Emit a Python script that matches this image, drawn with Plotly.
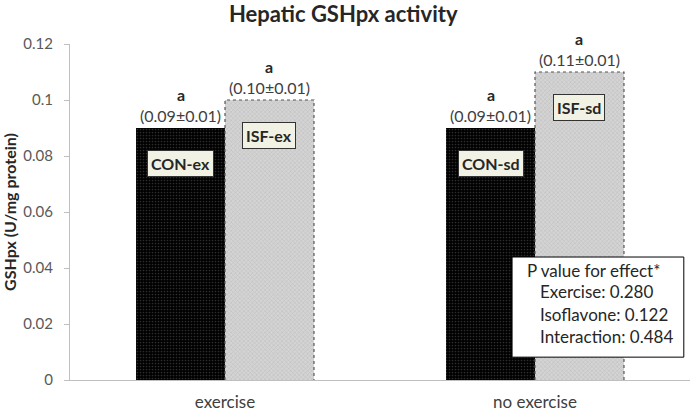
import plotly.graph_objects as go

categories = ["exercise", "no exercise"]
con_values = [0.09, 0.09]
isf_values = [0.10, 0.11]
con_labels = ["(0.09±0.01)", "(0.09±0.01)"]
isf_labels = ["(0.10±0.01)", "(0.11±0.01)"]
con_names = ["CON-ex", "CON-sd"]
isf_names = ["ISF-ex", "ISF-sd"]
sig_con = ["a", "a"]
sig_isf = ["a", "a"]
y_ticks = [0, 0.02, 0.04, 0.06, 0.08, 0.1, 0.12]
y_ticktext = ["0", "0.02", "0.04", "0.06", "0.08", "0.1", "0.12"]
pvalue_lines = ["P value for effect*", "Exercise: 0.280", "Isoflavone: 0.122", "Interaction: 0.484"]

FONT = "Lato"
BW = 0.287

fig = go.Figure()
fig.add_trace(go.Bar(
    x=list(range(len(categories))), y=con_values, width=BW, offset=-BW,
    marker=dict(color="black", line=dict(width=0),
                pattern=dict(shape=".", bgcolor="black", fgcolor="#5a5a5a", size=3, solidity=0.25)),
    showlegend=False, hoverinfo="skip"))
fig.add_trace(go.Bar(
    x=list(range(len(categories))), y=isf_values, width=BW, offset=0,
    marker=dict(color="#c8c8c8", line=dict(width=0),
                pattern=dict(shape="x", bgcolor="#d4d4d4", fgcolor="#a4a4a4", size=3, solidity=0.3)),
    showlegend=False, hoverinfo="skip"))

shapes = []
annotations = []
for i in range(len(categories)):
    # dotted outline of ISF bars
    x0, x1, top = i, i + BW, isf_values[i]
    shapes.append(dict(type="path", xref="x", yref="y",
                       path=f"M {x0},0 L {x0},{top} L {x1},{top} L {x1},0",
                       line=dict(color="#555555", width=1.2, dash="dot")))
    for xc, val, lab, sig, name in [
        (i - BW / 2, con_values[i], con_labels[i], sig_con[i], con_names[i]),
        (i + BW / 2, isf_values[i], isf_labels[i], sig_isf[i], isf_names[i]),
    ]:
        annotations.append(dict(x=xc, y=val, xref="x", yref="y", text=lab, showarrow=False,
                                yshift=13, font=dict(family=FONT, size=16, color="#404040")))
        annotations.append(dict(x=xc, y=val, xref="x", yref="y", text=f"<b>{sig}</b>", showarrow=False,
                                yshift=34, font=dict(family=FONT, size=16, color="#262626")))
        annotations.append(dict(x=xc, y=val, xref="x", yref="y", text=f"<b>{name}</b>", showarrow=False,
                                yshift=-35, font=dict(family=FONT, size=16, color="#262626"),
                                bgcolor="#f2f2e4", bordercolor="#333333", borderwidth=1, borderpad=3))

# P value box
shapes.append(dict(type="rect", xref="paper", yref="paper", x0=0.713, x1=0.990, y0=0.068, y1=0.366,
                   fillcolor="white", line=dict(color="black", width=1), layer="above"))
line_y = [0.327, 0.262, 0.196, 0.128]
line_x = [0.734, 0.755, 0.755, 0.755]
for txt, xx, yy in zip(pvalue_lines, line_x, line_y):
    annotations.append(dict(x=xx, y=yy, xref="paper", yref="paper", text=txt, showarrow=False,
                            xanchor="left", yanchor="middle",
                            font=dict(family=FONT, size=17, color="#262626")))

fig.update_layout(
    width=692, height=412,
    margin=dict(l=70, r=2, t=44, b=32),
    paper_bgcolor="white", plot_bgcolor="white",
    title=dict(text="<b>Hepatic GSHpx activity</b>", x=0.496, xanchor="center", y=0.965, yanchor="middle",
               font=dict(family=FONT, size=22, color="#262626")),
    xaxis=dict(tickmode="array", tickvals=list(range(len(categories))), ticktext=categories,
               range=[-0.5, len(categories) - 0.5], showline=True, linecolor="#bfbfbf", linewidth=1,
               showgrid=False, zeroline=False, ticks="", ticklabelstandoff=7, automargin=False,
               tickfont=dict(family=FONT, size=17, color="#404040")),
    yaxis=dict(range=[0, 0.12], tickmode="array", tickvals=y_ticks, ticktext=y_ticktext,
               showline=True, linecolor="#bfbfbf", linewidth=1, showgrid=False, zeroline=False,
               ticks="outside", ticklen=5, tickcolor="#bfbfbf", ticklabelstandoff=8, automargin=False,
               tickfont=dict(family=FONT, size=15, color="#595959"),
               title=dict(text="<b>GSHpx (U/mg protein)</b>", standoff=8,
                          font=dict(family=FONT, size=16, color="#262626"))),
    shapes=shapes, annotations=annotations,
)

fig.write_html("out.html")
